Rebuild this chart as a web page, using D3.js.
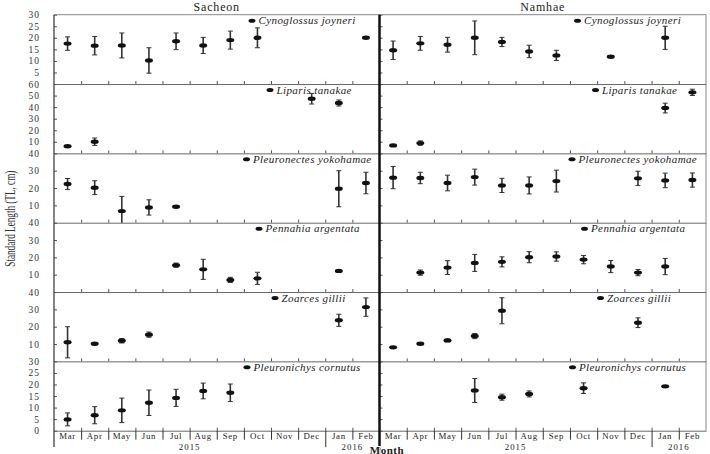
<!DOCTYPE html>
<html>
<head>
<meta charset="utf-8">
<script src="https://cdn.jsdelivr.net/npm/d3@7"></script>
<style>
  body { margin: 0; background: #fff; }
  svg { display: block; font-family: "Liberation Serif", "DejaVu Serif", serif; }
</style>
</head>
<body>
<svg></svg>
<script>
const w = 710;
const h = 454;

// data: [mean, sd] per month, null = no sample
const months = ['Mar', 'Apr', 'May', 'Jun', 'Jul', 'Aug', 'Sep', 'Oct', 'Nov', 'Dec', 'Jan', 'Feb'];
const years = [['2015', 0, 10], ['2016', 10, 12]];
const sites = ['Sacheon', 'Namhae'];
const species = ['Cynoglossus joyneri', 'Liparis tanakae', 'Pleuronectes yokohamae',
                 'Pennahia argentata', 'Zoarces gillii', 'Pleuronichys cornutus'];
const yMax = [30, 60, 40, 40, 40, 30];
const yTicks = [
  [5, 10, 15, 20, 25, 30],
  [10, 20, 30, 40, 50, 60],
  [10, 20, 30, 40],
  [10, 20, 30, 40],
  [10, 20, 30, 40],
  [0, 5, 10, 15, 20, 25, 30]
];

const sacheonCynoglossus = [[17.5, 2.9], [16.6, 4], [16.7, 5.4], [10.2, 5.5], [18.5, 3.6], [16.7, 3.5], [19, 3.9], [20, 4.3], null, null, null, [20, 0]];
const namhaeCynoglossus = [[14.6, 4], [17.6, 3], [17, 3.2], [20, 7.3], [18.2, 2], [14.1, 2.7], [12.4, 2.2], null, [11.8, 0], null, [20, 5], null];
const sacheonLiparis = [[6.1, 0], [10.1, 3.2], null, null, null, null, null, null, null, [47.3, 4.6], [43.6, 2.6], null];
const namhaeLiparis = [[6.9, 0], [8.9, 1.9], null, null, null, null, null, null, null, null, [39.2, 4.2], [52.8, 2.7]];
const sacheonPleuronectes = [[22.3, 3.2], [20.2, 4], [6.7, 8.5], [8.8, 4.4], [9.2, 0], null, null, null, null, null, [19.6, 10.4], [22.9, 6.2]];
const namhaePleuronectes = [[26, 6.4], [25.8, 3.3], [22.9, 4.5], [26.3, 4.6], [21.5, 4.1], [21.5, 4.9], [24, 6.3], null, null, [25.6, 4.1], [24.4, 4.2], [24.6, 4.1]];
const sacheonPennahia = [null, null, null, null, [15.5, 1.2], [13.1, 5.8], [7, 1.5], [7.9, 3.5], null, null, [12.2, 0], null];
const namhaePennahia = [null, [11.2, 1.5], [14.1, 4], [16.8, 4.9], [17.4, 2.9], [20.1, 3.2], [20.5, 2.7], [18.7, 2.4], [14.7, 3.5], [11.2, 1.8], [14.7, 4.7], null];
const sacheonZoarces = [[11, 9], [10.2, 0.6], [11.9, 1.3], [15.4, 1.5], null, null, null, null, null, null, [23.7, 3.5], [31.3, 5.3]];
const namhaeZoarces = [[8.1, 0], [10.2, 0.5], [12.1, 0.8], [14.6, 1.5], [29.2, 7.5], null, null, null, null, [22.3, 2.8], null, null];
const sacheonPleuronichys = [[4.9, 2.8], [6.7, 3.7], [8.8, 5.3], [12.1, 5.5], [14.2, 3.7], [17.2, 3.4], [16.4, 3.8], null, null, null, null, null];
const namhaePleuronichys = [null, null, null, [17.4, 5.2], [14.5, 1.3], [15.9, 1.3], null, [18.4, 2.3], null, null, [19.2, 0], null];

const series = [
  [sacheonCynoglossus, namhaeCynoglossus],
  [sacheonLiparis, namhaeLiparis],
  [sacheonPleuronectes, namhaePleuronectes],
  [sacheonPennahia, namhaePennahia],
  [sacheonZoarces, namhaeZoarces],
  [sacheonPleuronichys, namhaePleuronichys]
];

// layout
const plotTop = 14.7;
const plotBottom = 430.7;
const panelH = (plotBottom - plotTop) / species.length;
const siteX = [[54, 379.5], [379.5, 706]];
const legendOff = [198, 216, 192.5, 205, 221, 193];

const svg = d3.select('svg')
    .attr('width', w)
    .attr('height', h);

// titles
sites.forEach((s, i) => {
  svg.append('text')
      .attr('x', (siteX[i][0] + siteX[i][1]) / 2)
      .attr('y', 10.5)
      .attr('text-anchor', 'middle')
      .attr('font-size', 12)
      .attr('letter-spacing', 0.8)
      .attr('fill', '#222')
      .text(s);
});

species.forEach((sp, r) => {
  const y0 = plotTop + r * panelH;
  const yScale = d3.scaleLinear()
      .domain([0, yMax[r]])
      .range([y0 + panelH, y0]);

  sites.forEach((site, c) => {
    const [xa, xb] = siteX[c];
    const xScale = d3.scaleBand().domain(months).range([xa, xb]);
    const edge = d3.scaleLinear().domain([0, months.length]).range([xa, xb]);

    // y axis (labels only on left site)
    const yAxis = d3.axisLeft(yScale)
        .tickValues(yTicks[r])
        .tickSizeInner(-3)
        .tickSizeOuter(0)
        .tickPadding(14)
        .tickFormat(c === 0 ? d3.format('d') : '');
    const gy = svg.append('g')
        .attr('transform', 'translate(' + xa + ',0)')
        .call(yAxis);
    gy.select('.domain').remove();
    gy.selectAll('line').attr('stroke', '#555');
    gy.selectAll('text')
        .attr('font-family', '"Liberation Serif", serif')
        .attr('font-size', 9.5)
        .attr('letter-spacing', 1)
        .attr('fill', '#333');

    // month boundary ticks at panel bottom
    const gx = svg.append('g')
        .attr('transform', 'translate(0,' + (y0 + panelH) + ')')
        .call(d3.axisBottom(edge)
          .tickValues(d3.range(1, months.length))
          .tickSizeInner(-3)
          .tickSizeOuter(0)
          .tickFormat(''));
    gx.select('.domain').attr('stroke', '#666');
    gx.selectAll('line').attr('stroke', '#555');

    // error bars + points
    const pts = months.map((m, i) => ({ m: m, v: series[r][c][i] })).filter(d => d.v);
    const g = svg.append('g');
    const cx = d => xScale(d.m) + xScale.bandwidth() / 2;
    const lo = d => yScale(Math.max(0, d.v[0] - d.v[1]));
    const hi = d => yScale(Math.min(yMax[r], d.v[0] + d.v[1]));
    const eb = pts.filter(d => d.v[1] > 0);

    g.selectAll('.bar').data(eb).enter().append('line')
        .attr('x1', cx).attr('x2', cx)
        .attr('y1', lo).attr('y2', hi)
        .attr('stroke', '#333').attr('stroke-width', 1.6);
    g.selectAll('.capT').data(eb).enter().append('line')
        .attr('x1', d => cx(d) - 2.5).attr('x2', d => cx(d) + 2.5)
        .attr('y1', hi).attr('y2', hi)
        .attr('stroke', '#333').attr('stroke-width', 1);
    g.selectAll('.capB').data(eb.filter(d => d.v[0] - d.v[1] > 0)).enter().append('line')
        .attr('x1', d => cx(d) - 2.5).attr('x2', d => cx(d) + 2.5)
        .attr('y1', lo).attr('y2', lo)
        .attr('stroke', '#333').attr('stroke-width', 1);
    g.selectAll('ellipse').data(pts).enter().append('ellipse')
        .attr('cx', cx)
        .attr('cy', d => yScale(d.v[0]))
        .attr('rx', 4)
        .attr('ry', 2.2)
        .attr('fill', '#111');

    // species legend
    const lx = xa + legendOff[r];
    svg.append('ellipse')
        .attr('cx', lx).attr('cy', y0 + 6)
        .attr('rx', 3.5).attr('ry', 2)
        .attr('fill', '#111');
    svg.append('text')
        .attr('x', lx + 6.5)
        .attr('y', y0 + 9.5)
        .attr('font-size', 11)
        .attr('font-style', 'italic')
        .attr('letter-spacing', 0.4)
        .attr('fill', '#222')
        .text(sp);
  });
});

// frame
svg.append('line').attr('x1', 54).attr('x2', 706).attr('y1', plotTop).attr('y2', plotTop)
    .attr('stroke', '#888');
svg.append('line').attr('x1', 706).attr('x2', 706).attr('y1', plotTop).attr('y2', plotBottom)
    .attr('stroke', '#888');
svg.append('line').attr('x1', 54).attr('x2', 54).attr('y1', plotTop).attr('y2', 447)
    .attr('stroke', '#333').attr('stroke-width', 1.2);

// bottom month labels, separators and years
sites.forEach((site, c) => {
  const [xa, xb] = siteX[c];
  const xScale = d3.scaleBand().domain(months).range([xa, xb]);
  const edge = d3.scaleLinear().domain([0, months.length]).range([xa, xb]);

  const ga = svg.append('g')
      .attr('transform', 'translate(0,' + plotBottom + ')')
      .call(d3.axisBottom(xScale).tickSize(0).tickPadding(2));
  ga.select('.domain').remove();
  ga.selectAll('text')
      .attr('font-family', '"Liberation Serif", serif')
      .attr('font-size', 8.8)
      .attr('letter-spacing', 0.7)
      .attr('fill', '#222');

  const gs = svg.append('g')
      .attr('transform', 'translate(0,' + plotBottom + ')')
      .call(d3.axisBottom(edge).tickValues(d3.range(1, months.length)).tickSize(9).tickFormat(''));
  gs.select('.domain').remove();
  gs.selectAll('.tick line')
      .attr('stroke', '#333')
      .attr('y2', d => d === 10 ? 16.5 : 9);

  years.forEach(yr => {
    svg.append('text')
        .attr('x', (edge(yr[1]) + edge(yr[2])) / 2)
        .attr('y', 450)
        .attr('text-anchor', 'middle')
        .attr('font-size', 8.8)
        .attr('letter-spacing', 1)
        .attr('fill', '#222')
        .text(yr[0]);
  });
});

// middle divider
svg.append('line').attr('x1', 379.5).attr('x2', 379.5).attr('y1', plotTop).attr('y2', h)
    .attr('stroke', '#111').attr('stroke-width', 2.5);

// axis titles
svg.append('text')
    .attr('transform', 'translate(15,' + ((plotTop + plotBottom) / 2 - 4) + ') rotate(-90)')
    .attr('text-anchor', 'middle')
    .attr('font-size', 15)
    .attr('textLength', 96)
    .attr('lengthAdjust', 'spacingAndGlyphs')
    .attr('fill', '#333')
    .text('Standard Length (TL, cm)');

svg.append('text')
    .attr('x', 387)
    .attr('y', 453.5)
    .attr('text-anchor', 'middle')
    .attr('font-size', 11)
    .attr('font-weight', 'bold')
    .attr('letter-spacing', 0.5)
    .attr('fill', '#222')
    .attr('stroke', '#fff')
    .attr('stroke-width', 2)
    .attr('paint-order', 'stroke')
    .text('Month');
</script>
</body>
</html>
